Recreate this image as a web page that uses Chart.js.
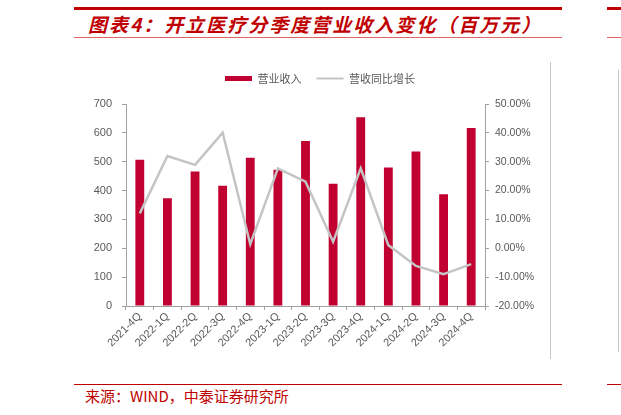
<!DOCTYPE html>
<html>
<head>
<meta charset="utf-8">
<script src="https://cdn.jsdelivr.net/npm/chart.js@4/dist/chart.umd.min.js"></script>
<style>
  body { margin: 0; background: #fff; width: 621px; height: 415px; position: relative; overflow: hidden; }
  .rule { position: absolute; background: #c00000; }
  .vline { position: absolute; width: 1px; background: #c8c8c8; }
  #title { position: absolute; left: 88px; top: 10px; font: italic bold 19px "Noto Sans CJK SC", sans-serif; color: #c00000; letter-spacing: 2px; white-space: nowrap; }
  #source { position: absolute; left: 85px; top: 385px; font: 15px "Noto Sans CJK SC", sans-serif; color: #c00000; white-space: nowrap; }
  #chart { position: absolute; left: 70px; top: 50px; }
</style>
</head>
<body>
<div class="rule" style="left:74px;top:7px;width:488px;height:3px"></div>
<div class="rule" style="left:607px;top:7px;width:14px;height:3px"></div>
<div class="rule" style="left:74px;top:37px;width:488px;height:1px;background:#e06666"></div>
<div class="rule" style="left:607px;top:37px;width:14px;height:1px;background:#e06666"></div>
<div id="title">图表4：开立医疗分季度营业收入变化（百万元）</div>
<div class="vline" style="left:550px;top:62px;height:297px"></div>
<div class="vline" style="left:618px;top:70px;height:282px"></div>
<canvas id="chart" width="500" height="315"></canvas>
<div class="rule" style="left:74px;top:384px;width:488px;height:1px"></div>
<div class="rule" style="left:607px;top:384px;width:14px;height:1px"></div>
<div id="source">来源：WIND，中泰证券研究所</div>
<script>
const quarters = ['2021-4Q', '2022-1Q', '2022-2Q', '2022-3Q', '2022-4Q', '2023-1Q', '2023-2Q',
  '2023-3Q', '2023-4Q', '2024-1Q', '2024-2Q', '2024-3Q', '2024-4Q'];
const revenue = [507, 373, 466, 417, 514, 472, 572, 424, 654, 480, 535, 387, 617];
const growth = [12.1, 32.0, 28.9, 40.1, 1.4, 27.7, 23.1, 2.3, 27.7, 1.1, -6.1, -9.0, -5.5];
const seriesNames = ['营业收入', '营收同比增长'];

const barColor = '#c00030';
const lineColor = '#c4c4c4';
const axisColor = '#a0a0a0';
const tickColor = '#595959';

// leave a bit more room under the legend
const legendGap = {
  id: 'legendGap',
  beforeInit(chart) {
    const fit = chart.legend.fit;
    chart.legend.fit = function () {
      fit.call(this);
      this.height += 10;
    };
  }
};

new Chart(document.getElementById('chart'), {
  data: {
    labels: quarters,
    datasets: [{
      type: 'bar',
      label: seriesNames[0],
      data: revenue,
      yAxisID: 'y',
      backgroundColor: barColor,
      barPercentage: 0.32,
      categoryPercentage: 1,
      order: 1
    }, {
      type: 'line',
      label: seriesNames[1],
      data: growth,
      yAxisID: 'y1',
      borderColor: lineColor,
      borderWidth: 2.5,
      pointRadius: 0,
      tension: 0,
      order: 0
    }]
  },
  plugins: [legendGap],
  options: {
    responsive: false,
    animation: false,
    layout: { padding: { top: 8, left: 0, right: 0, bottom: 0 } },
    plugins: {
      tooltip: { enabled: false },
      legend: {
        labels: {
          usePointStyle: true,
          pointStyleWidth: 27,
          boxHeight: 5,
          padding: 15,
          color: tickColor,
          font: { family: '"Noto Sans CJK SC", sans-serif', size: 11 },
          sort: (a, b) => a.datasetIndex - b.datasetIndex,
          generateLabels: chart => chart.data.datasets.map((ds, i) => ({
            text: ds.label,
            datasetIndex: i,
            fillStyle: ds.type === 'bar' ? barColor : 'rgba(0,0,0,0)',
            strokeStyle: ds.type === 'bar' ? barColor : lineColor,
            lineWidth: ds.type === 'bar' ? 0 : 2,
            pointStyle: ds.type === 'bar' ? 'rect' : 'line',
            fontColor: tickColor,
            hidden: false
          }))
        }
      }
    },
    scales: {
      x: {
        offset: true,
        grid: { display: true, drawOnChartArea: false, offset: true, tickLength: 4, color: axisColor },
        border: { color: axisColor },
        ticks: {
          color: tickColor,
          minRotation: 45,
          maxRotation: 45,
          padding: 0,
          font: { family: '"Liberation Sans", Arial, sans-serif', size: 11 }
        },
        afterFit: s => { s.height = 59; }
      },
      y: {
        position: 'left',
        min: 0,
        max: 700,
        grid: { drawOnChartArea: false, tickLength: 4, color: axisColor },
        border: { color: axisColor },
        ticks: {
          stepSize: 100,
          padding: 10,
          color: tickColor,
          font: { family: '"Liberation Sans", Arial, sans-serif', size: 11 }
        },
        afterFit: s => { s.width = 56; }
      },
      y1: {
        position: 'right',
        min: -20,
        max: 50,
        grid: { drawOnChartArea: false, tickLength: 4, color: axisColor },
        border: { color: axisColor },
        ticks: {
          stepSize: 10,
          padding: 6,
          color: tickColor,
          callback: v => v.toFixed(2) + '%',
          font: { family: '"Liberation Sans", Arial, sans-serif', size: 10.5 }
        },
        afterFit: s => { s.width = 85; }
      }
    }
  }
});
</script>
</body>
</html>
